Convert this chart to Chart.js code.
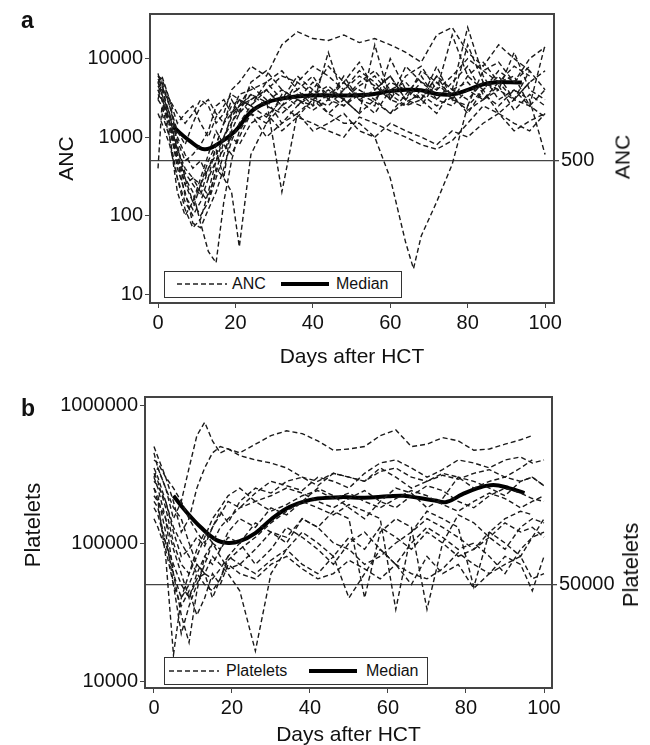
<!DOCTYPE html>
<html>
<head>
<meta charset="utf-8">
<script src="https://cdn.jsdelivr.net/npm/chart.js@4.4.0/dist/chart.umd.min.js"></script>
<style>
  body { margin: 0; width: 650px; height: 745px; overflow: hidden; background: #fff; position: relative;
         font-family: "Liberation Sans", Arial, sans-serif; color: #111; }
  .wrap { position: absolute; left: 0; width: 650px; }
  #wrapA { top: 0; height: 370px; }
  #wrapB { top: 370px; height: 378px; }
  .tag { position: absolute; font-weight: bold; font-size: 23px; line-height: 1; }
  .vtitle { position: absolute; white-space: nowrap; line-height: 1; transform: translate(-50%, -50%) rotate(-90deg); }
  .legend { position: absolute; box-sizing: border-box; border: 1.5px solid #333; background: #fff; font-size: 16px; }
  .legend > * { position: absolute; }
  .legend span.txt { top: 0; line-height: 24px; }
  .legend span.solid { height: 4px; background: #000; }
</style>
</head>
<body>
<div class="wrap" id="wrapA"><canvas id="ancChart" width="650" height="370"></canvas></div>
<div class="wrap" id="wrapB"><canvas id="pltChart" width="650" height="378"></canvas></div>

<div class="tag" style="left:21px;top:9px">a</div>
<div class="tag" style="left:21px;top:397px">b</div>

<div class="vtitle" style="left:622px;top:157px;font-size:21px">ANC</div>
<div class="vtitle" style="left:33px;top:525px;font-size:22px">Platelets</div>
<div class="vtitle" style="left:631px;top:565px;font-size:22px">Platelets</div>

<div class="legend" style="left:164px;top:271px;width:238px;height:27px">
  <svg style="left:12px;top:10px" width="50" height="4"><line x1="0" y1="2" x2="50" y2="2" stroke="#222" stroke-width="1.4" stroke-dasharray="5 3"/></svg>
  <span class="txt" style="left:67px">ANC</span>
  <span class="solid" style="left:116px;top:10px;width:48px"></span>
  <span class="txt" style="left:171px">Median</span>
</div>
<div class="legend" style="left:164px;top:657px;width:264px;height:28px">
  <svg style="left:4px;top:11px" width="50" height="4"><line x1="0" y1="2" x2="50" y2="2" stroke="#222" stroke-width="1.4" stroke-dasharray="5 3"/></svg>
  <span class="txt" style="left:61px;line-height:25px">Platelets</span>
  <span class="solid" style="left:144px;top:11px;width:48px"></span>
  <span class="txt" style="left:201px;line-height:25px">Median</span>
</div>

<script>
// ---- panel a: ANC ----
const ancDays = [0, 1, 3, 5, 7, 9, 11, 13, 15, 17, 19, 21, 24, 28, 32, 36, 40, 44, 48, 52, 56, 60, 64, 66, 68, 72, 76, 80, 84, 88, 92, 96, 100];
const ancPatients = [
    [5000, 6000, 3000, 800, 300, 150, 100, 150, 300, 600, 1200, 2000, 3000, 4000, 2500, 5000, 8000, 6000, 4000, 7000, 5000, 3000, 6000, null, 8000, 4000, 6000, 10000, 7000, 5000, 8000, 6000, null],
    [3000, 5000, 1500, 400, 200, 80, 70, 120, 200, 400, 900, 1500, 2500, 1800, 3000, 4000, 2500, 3500, 5000, 3000, 2000, 4000, 3000, null, 2500, 5000, 3500, 2000, 4000, 6000, 3000, 2500, 1800],
    [6500, 4000, 2000, 600, 300, 200, 80, 35, 25, 150, 500, 1200, 2000, 3000, 1500, 2500, 3500, 2000, 3000, 4500, 6000, 3500, 2500, null, 3000, 2000, 4000, 5000, 3000, 4000, null, null, null],
    [4000, 3000, 1200, 500, 250, 300, 200, 150, 400, 300, 200, 40, 600, 1500, 2500, 1800, 3000, 4000, 3000, 2000, 3000, 5000, 4000, null, 3000, 6000, 4000, 3000, 5000, 4000, 3000, 5000, 7000],
    [5000, 4000, 3000, 2000, 1500, 2000, 3000, 2500, 1500, 2000, 4000, 5000, 8000, 6000, 15000, 22000, 18000, 17000, 20000, 16000, 18000, 15000, 12000, null, 9000, 20000, 25000, 12000, 8000, 15000, 10000, 7000, null],
    [3000, 2500, 1500, 700, 400, 300, 250, 500, 800, 1500, 2000, 2500, 3000, 4000, 2500, 3500, 3000, 2000, 1500, 1500, 1000, 300, 45, 21, 55, 150, 450, 2500, 4000, 2000, 3000, 5000, null],
    [2000, 1500, 800, 300, 150, 100, 150, 300, 500, 700, 1000, 800, 1500, 2000, 1200, 1800, 1500, 1200, 1000, 1800, 1500, 1200, 1000, null, 800, 700, 900, 1500, 2500, 2000, 1500, 1200, 2000],
    [6000, 5000, 2500, 1000, 600, 400, 500, 300, 800, 1500, 2500, 3000, 2000, 1500, 3500, 2500, 4000, 3000, 6000, 3000, 2500, 10000, 4000, null, 3000, 8000, 3000, 15000, 5000, 4000, 12000, 4000, 3000],
    [4500, 3500, 2000, 900, 500, 600, 800, 1200, 2500, 3000, 2000, 3500, 4000, 5000, 3000, 6000, 4000, 8000, 5000, 3000, 4000, 6000, 3000, null, 5000, 4000, 20000, 6000, 4000, 7000, 5000, 8000, null],
    [null, 2000, 1000, 300, 120, 70, 90, 200, 500, 1000, 1800, 2500, 3500, 2500, 2000, 3000, 5000, 3500, 2500, 4000, 3000, 2000, 3500, null, 6000, 3000, 2500, 4000, 3000, 5000, 6000, 2500, 4000],
    [5500, 4500, 2500, 1200, 800, 1500, 2500, 3000, 2000, 1500, 3000, 2000, 5000, 7000, 4000, 3000, 2500, 12000, 3000, 2000, 15000, 3000, 2500, null, 4000, 3000, 5000, 8000, 3500, 2500, 4000, 3000, 600],
    [3500, 3000, 1800, 700, 350, 250, 180, 400, 700, 300, 1500, 2500, 4500, 3000, 200, 2000, 3000, 2500, 4000, 6000, 4500, 3000, 8000, null, 5000, 3500, 4000, 25000, 6000, 3000, 4000, 2500, 15000],
    [6000, 5500, 3000, 1500, 2000, 2500, 1500, 1000, 1800, 2500, 3500, 3000, 2500, 4000, 6000, 5000, 3500, 4500, 3000, 5000, 7000, 4000, 5000, null, 3000, 6000, 3000, 2500, 7000, 9000, 5000, 10000, 14000],
    [4000, 3000, 1500, 600, 250, 150, 300, 600, 1200, 800, 600, 1000, 2000, 1000, 1500, 2000, 1200, 1500, 2000, 1200, 1000, 1500, 1200, null, 1000, 800, 1200, 1000, 1500, 2000, 1200, 1600, 2000],
    [400, 2500, 1000, 200, 100, 150, 250, 180, 350, 900, 2000, 3000, 2500, 5000, 7000, 4000, 6000, 3000, 5000, 9000, 4000, 6000, 3000, null, 7000, 5000, 3000, 6000, 9000, 5000, 3000, 7000, 4000],
    [5000, 3500, 1500, 500, 180, 120, 250, 400, 600, 1000, 1500, 2200, 3500, 2800, 4000, 3000, 2200, 3000, 2500, 3500, 2800, 2000, 2800, null, 3500, 2500, 3200, 2200, 3000, 4500, 2200, 3500, 2500]
];
const ancMedianDays = [4, 8, 12, 16, 20, 24, 28, 32, 36, 40, 45, 50, 55, 60, 64, 68, 72, 76, 80, 84, 88, 91, 94];
const ancMedian = [1340, 910, 700, 850, 1200, 2100, 2750, 3100, 3300, 3400, 3400, 3400, 3500, 3850, 4000, 3950, 3550, 3500, 4000, 4700, 5000, 5000, 4950];
const ancTicks = [10, 100, 1000, 10000];
const ancThreshold = [500];

// ---- panel b: platelets ----
const pltDays = [0, 1, 3, 5, 7, 9, 11, 13, 15, 17, 19, 22, 26, 30, 34, 38, 42, 46, 50, 54, 58, 62, 66, 70, 74, 78, 82, 86, 90, 94, 97, 100];
const pltPatients = [
    [300000, 350000, 250000, 150000, 200000, 350000, 600000, 750000, 550000, 450000, 480000, 430000, 400000, 380000, 350000, 300000, 280000, 320000, 300000, 280000, 350000, 300000, 250000, 280000, 320000, 300000, 250000, 280000, 300000, 350000, 400000, null],
    [500000, 420000, 300000, 200000, 120000, 150000, 250000, 350000, 450000, 500000, 480000, 450000, 520000, 600000, 650000, 620000, 550000, 470000, 480000, 500000, 600000, 660000, 500000, 520000, 580000, 550000, 470000, 480000, 520000, 560000, 600000, null],
    [250000, 200000, 80000, 15500, 40000, 60000, 90000, 120000, 100000, 130000, 150000, 180000, 200000, 220000, 250000, 230000, 200000, 180000, 210000, 240000, 200000, 180000, 220000, 260000, 240000, 200000, 180000, 220000, 250000, 230000, 210000, 200000],
    [300000, 250000, 150000, 60000, 30000, 19000, 45000, 80000, 100000, 90000, 120000, 150000, 130000, 180000, 160000, 200000, 250000, 220000, 180000, 150000, 200000, 250000, 230000, 180000, 210000, 300000, 280000, 250000, 220000, 280000, 300000, 260000],
    [200000, 180000, 100000, 70000, 50000, 40000, 55000, 60000, 80000, 70000, 60000, 45000, 16500, 60000, 90000, 120000, 100000, 80000, 110000, 90000, 130000, 110000, 90000, 120000, 100000, 80000, 90000, 120000, 100000, 80000, 110000, 150000],
    [250000, 220000, 120000, 50000, 22000, 35000, 50000, 70000, 100000, 80000, 65000, 70000, 90000, 120000, 110000, 150000, 130000, 100000, 90000, 70000, 80000, 100000, 120000, 150000, 130000, 110000, 90000, 110000, 140000, 120000, 130000, 110000],
    [180000, 160000, 100000, 60000, 40000, 50000, 70000, 60000, 55000, 65000, 80000, 70000, 60000, 75000, 90000, 70000, 60000, 80000, 40000, 60000, 90000, 70000, 50000, 80000, 60000, 70000, 47000, 60000, 80000, 70000, 45000, 80000],
    [350000, 300000, 200000, 120000, 80000, 90000, 110000, 95000, 130000, 170000, 140000, 200000, 250000, 230000, 280000, 300000, 260000, 320000, 300000, 280000, 330000, 350000, 300000, 280000, 310000, 290000, 320000, 340000, 300000, 280000, 300000, 260000],
    [220000, 200000, 150000, 90000, 60000, 40000, 60000, 80000, 70000, 90000, 110000, 100000, 140000, 120000, 100000, 150000, 130000, 170000, 150000, 40000, 120000, 150000, 130000, 33000, 100000, 160000, 140000, 110000, 90000, 130000, 150000, 140000],
    [280000, 260000, 200000, 130000, 100000, 80000, 60000, 50000, 45000, 55000, 75000, 90000, 110000, 140000, 170000, 200000, 180000, 160000, 190000, 170000, 150000, 33000, 120000, 170000, 150000, 130000, 48000, 120000, 150000, 170000, 160000, null],
    [400000, 380000, 300000, 250000, 200000, 150000, 120000, 100000, 130000, 160000, 200000, 180000, 230000, 280000, 260000, 240000, 300000, 280000, 250000, 320000, 380000, 400000, 350000, 300000, 340000, 400000, 380000, 350000, 400000, 420000, 380000, 400000],
    [150000, 130000, 90000, 50000, 35000, 45000, 30000, 40000, 60000, 50000, 70000, 60000, 55000, 70000, 80000, 65000, 55000, 60000, 75000, 65000, 55000, 70000, 60000, 55000, 65000, 85000, 70000, 60000, 70000, 80000, 55000, 60000],
    [320000, 280000, 180000, 100000, 70000, 60000, 80000, 110000, 150000, 180000, 220000, 250000, 200000, 170000, 190000, 220000, 240000, 210000, 230000, 200000, 180000, 210000, 240000, 220000, 190000, 170000, 200000, 230000, 210000, 180000, 200000, 220000],
    [450000, 350000, 250000, 180000, 150000, 100000, 70000, 60000, 40000, 55000, 80000, 100000, 70000, 90000, 130000, 110000, 90000, 70000, 100000, 120000, 90000, 70000, 100000, 130000, 110000, 90000, 100000, 80000, 60000, 90000, 110000, 120000]
];
const pltMedianDays = [5, 8, 12, 16, 19, 22, 26, 30, 34, 38, 42, 48, 54, 60, 64, 68, 72, 75, 79, 83, 87, 91, 95];
const pltMedian = [220000, 172000, 130000, 105000, 100000, 103000, 118000, 148000, 178000, 198000, 210000, 215000, 213000, 218000, 220000, 212000, 203000, 198000, 225000, 250000, 263000, 250000, 230000];
const pltTicks = [10000, 100000, 1000000];
const pltThreshold = [50000];

const dayTicks = [0, 20, 40, 60, 80, 100];

Chart.defaults.font.family = "'Liberation Sans', Arial, sans-serif";
Chart.defaults.color = '#111';

// frame round the plot area
const framePlugin = {
    id: 'frame',
    afterDatasetsDraw(chart) {
        const { ctx, chartArea: a } = chart;
        ctx.save();
        ctx.strokeStyle = '#444';
        ctx.lineWidth = 2;
        ctx.strokeRect(a.left, a.top, a.right - a.left, a.bottom - a.top);
        ctx.restore();
    }
};

function toPoints(days, values) {
    const pts = [];
    days.forEach((d, i) => {
        if (values[i] !== null) pts.push({ x: d, y: values[i] });
    });
    return pts;
}

function buildChart(canvasId, p) {
    const datasets = p.patients.map(vals => ({
        data: toPoints(p.days, vals),
        borderColor: '#1a1a1a',
        borderWidth: 1.4,
        borderDash: [5, 3],
        pointRadius: 0,
        tension: 0
    }));
    datasets.push({
        data: toPoints(p.medianDays, p.median),
        borderColor: '#000',
        borderWidth: 4,
        pointRadius: 0,
        tension: 0.4
    });

    return new Chart(document.getElementById(canvasId).getContext('2d'), {
        type: 'line',
        data: { datasets },
        plugins: [framePlugin],
        options: {
            responsive: false,
            animation: false,
            layout: { padding: p.padding },
            plugins: { legend: { display: false }, tooltip: { enabled: false } },
            scales: {
                x: {
                    type: 'linear',
                    min: p.xMin,
                    max: p.xMax,
                    afterBuildTicks: s => { s.ticks = dayTicks.map(v => ({ value: v })); },
                    afterFit: s => { s.height = p.xHeight; },
                    grid: { drawOnChartArea: false, tickLength: 5, color: '#444' },
                    border: { display: false },
                    ticks: { font: { size: 20 }, padding: 3, maxRotation: 0 },
                    title: { display: true, text: 'Days after HCT', font: { size: 21 }, padding: 0 }
                },
                y: {
                    type: 'logarithmic',
                    position: 'left',
                    min: p.yMin,
                    max: p.yMax,
                    afterBuildTicks: s => { s.ticks = p.ticks.map(v => ({ value: v })); },
                    afterFit: s => { s.width = p.yWidth; },
                    grid: { drawOnChartArea: false, tickLength: 5, color: '#444' },
                    border: { display: false },
                    ticks: { font: { size: 20 }, padding: 2, callback: v => String(v) },
                    title: { display: p.leftTitle, text: p.label, font: { size: 21 }, padding: 0 }
                },
                y2: {
                    type: 'logarithmic',
                    position: 'right',
                    min: p.yMin,
                    max: p.yMax,
                    afterBuildTicks: s => { s.ticks = p.threshold.map(v => ({ value: v })); },
                    afterFit: s => { s.width = p.y2Width; },
                    grid: { drawOnChartArea: true, tickLength: 5, color: '#444', lineWidth: 1.3 },
                    border: { display: false },
                    ticks: { font: { size: 20 }, padding: 2, callback: v => String(v) },
                    title: { display: false }
                }
            }
        }
    });
}

buildChart('ancChart', {
    days: ancDays, patients: ancPatients, medianDays: ancMedianDays, median: ancMedian,
    ticks: ancTicks, threshold: ancThreshold, label: 'ANC', leftTitle: true,
    xMin: -2.07, xMax: 102.3, yMin: 7.7, yMax: 37000,
    padding: { left: 55, right: 14, top: 13, bottom: 0 },
    yWidth: 95, y2Width: 82, xHeight: 67
});

buildChart('pltChart', {
    days: pltDays, patients: pltPatients, medianDays: pltMedianDays, median: pltMedian,
    ticks: pltTicks, threshold: pltThreshold, label: 'Platelets', leftTitle: false,
    xMin: -2.3, xMax: 102.05, yMin: 8900, yMax: 1143000,
    padding: { left: 20, right: 6, top: 27, bottom: 0 },
    yWidth: 125, y2Width: 92, xHeight: 60
});
</script>
</body>
</html>
